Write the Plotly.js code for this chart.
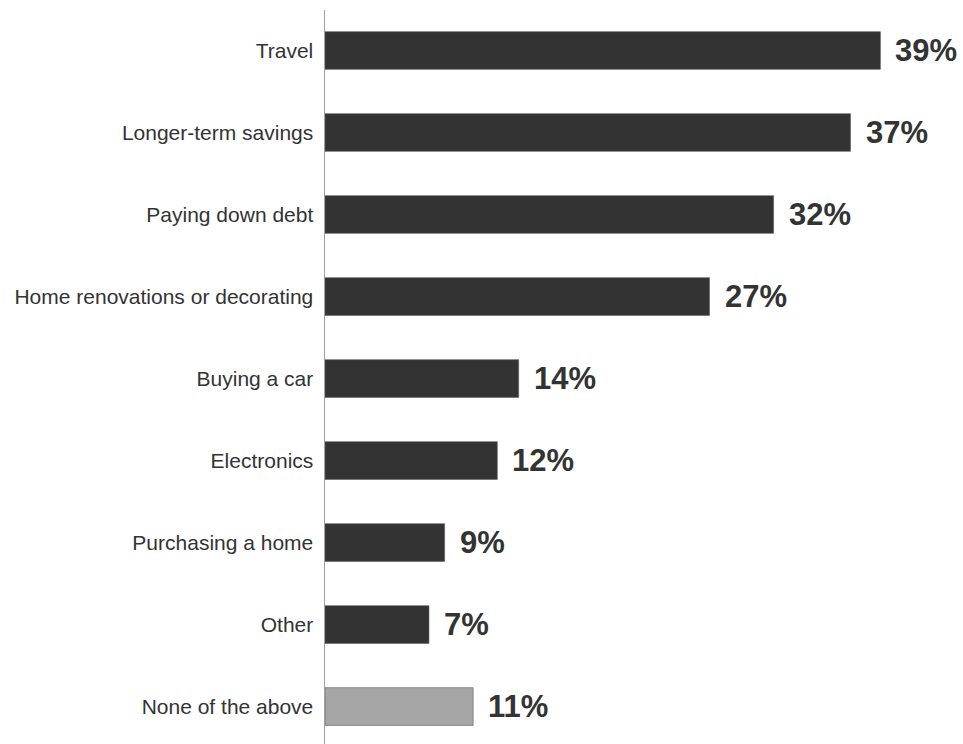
<!DOCTYPE html>
<html>
<head>
<meta charset="utf-8">
<script src="https://cdn.plot.ly/plotly-3.0.1.min.js"></script>
<style>html,body{margin:0;padding:0;background:#fff;}#chart{width:963px;height:744px;}</style>
</head>
<body>
<div id="chart"></div>
<script>
const categories = ["Travel", "Longer-term savings", "Paying down debt", "Home renovations or decorating", "Buying a car", "Electronics", "Purchasing a home", "Other", "None of the above"];
const barValues = [39, 36.9, 31.5, 27, 13.6, 12.1, 8.4, 7.3, 10.4];
const valueLabels = ["39%", "37%", "32%", "27%", "14%", "12%", "9%", "7%", "11%"];
const barColors = ["#333333", "#333333", "#333333", "#333333", "#333333", "#333333", "#333333", "#333333", "#a6a6a6"];

const trace = {
  type: "bar",
  orientation: "h",
  y: categories,
  x: barValues,
  width: 0.46,
  marker: { color: barColors, line: { color: "#5a5a5a", width: 0.6 } },
  hoverinfo: "none"
};

const annotations = categories.map((c, i) => ({
  x: barValues[i], y: c, xref: "x", yref: "y",
  text: valueLabels[i], showarrow: false,
  xanchor: "left", yanchor: "middle", xshift: 13,
  font: { family: "Liberation Sans, Arial, sans-serif", size: 31, color: "#333333", weight: "bold" }
}));

const layout = {
  width: 963, height: 744,
  margin: { l: 325, r: 0, t: 10, b: 0 },
  paper_bgcolor: "#ffffff", plot_bgcolor: "#ffffff",
  showlegend: false,
  font: { family: "Liberation Sans, Arial, sans-serif", size: 21, color: "#333333" },
  xaxis: { range: [0, 44.8], showgrid: false, zeroline: false, showline: false, showticklabels: false, ticks: "" },
  yaxis: {
    type: "category", range: [8.457, -0.494], autorange: false,
    showgrid: false, zeroline: false, showline: true, linecolor: "#a0a0a0", linewidth: 1.5,
    ticks: "", ticklabelstandoff: 6,
    tickfont: { family: "Liberation Sans, Arial, sans-serif", size: 21, color: "#333333" }
  },
  annotations: annotations
};

Plotly.newPlot("chart", [trace], layout, { displayModeBar: false, staticPlot: true });
</script>
</body>
</html>
